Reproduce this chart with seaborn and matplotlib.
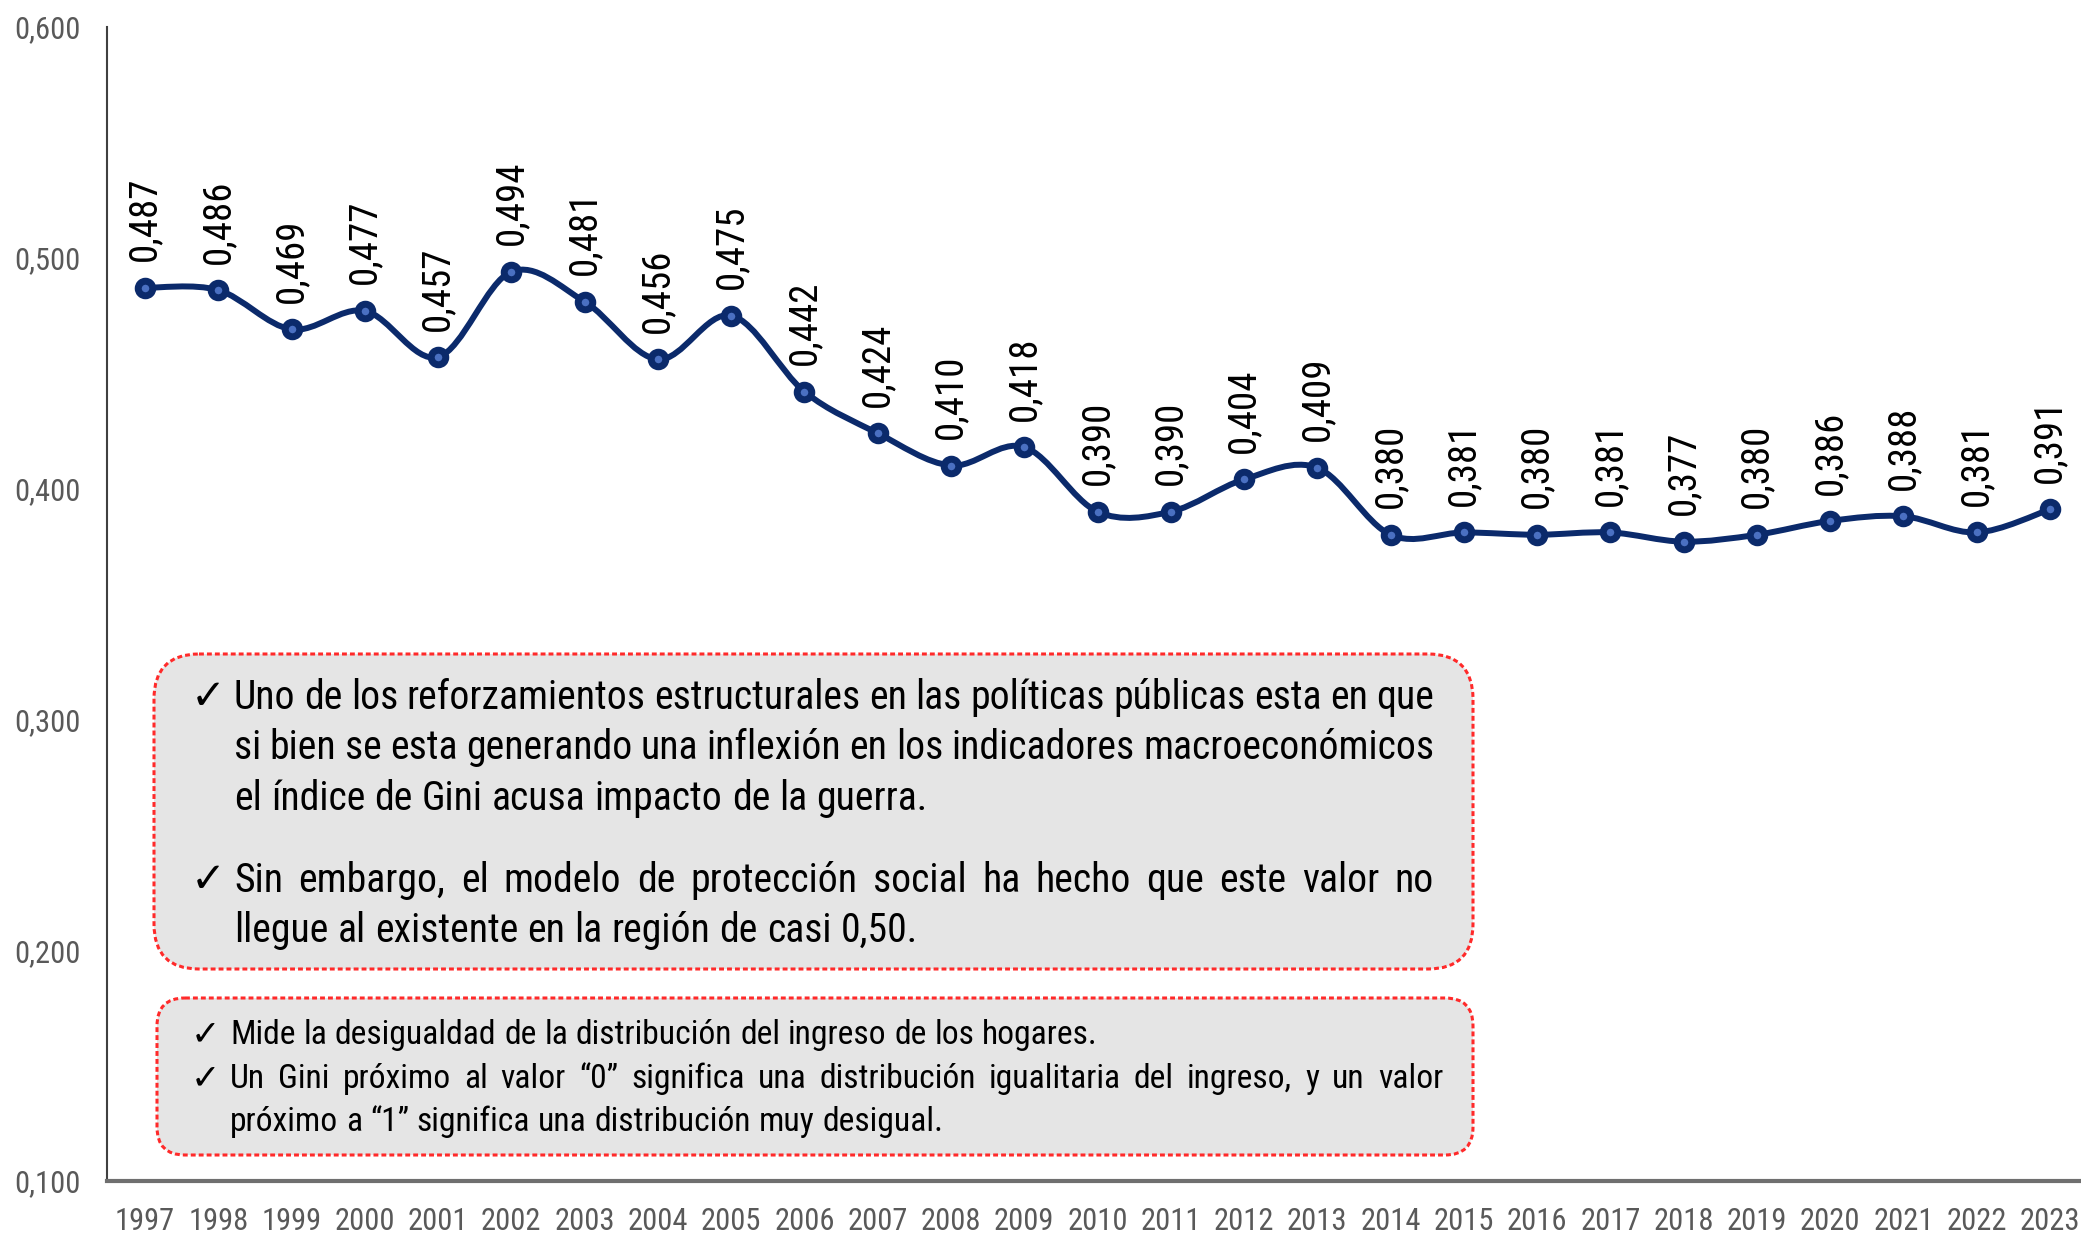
import numpy as np
import pandas as pd
import seaborn as sns
import matplotlib
matplotlib.use("Agg")
import matplotlib.pyplot as plt
import matplotlib.transforms as mtransforms
from matplotlib import font_manager
from matplotlib.patches import FancyBboxPatch, PathPatch
from matplotlib.path import Path
from matplotlib.ticker import FuncFormatter

# ---- data -------------------------------------------------------------
years = list(range(1997, 2024))
gini = [0.487, 0.486, 0.469, 0.477, 0.457, 0.494, 0.481, 0.456, 0.475,
        0.442, 0.424, 0.410, 0.418, 0.390, 0.390, 0.404, 0.409, 0.380,
        0.381, 0.380, 0.381, 0.377, 0.380, 0.386, 0.388, 0.381, 0.391]
y_ticks = [0.1, 0.2, 0.3, 0.4, 0.5, 0.6]

note_main = [
    ["Uno de los reforzamientos estructurales en las políticas públicas esta en que",
     "si bien se esta generando una inflexión en los indicadores macroeconómicos",
     "el índice de Gini acusa impacto de la guerra."],
    ["Sin embargo, el modelo de protección social ha hecho que este valor no",
     "llegue al existente en la región de casi 0,50."],
]
note_def = [
    ["Mide la desigualdad de la distribución del ingreso de los hogares."],
    ["Un Gini próximo al valor “0” significa una distribución igualitaria del ingreso, y un valor",
     "próximo a “1” significa una distribución muy desigual."],
]

# ---- style ------------------------------------------------------------
W, H, DPI = 2081, 1234, 100
NAVY = "#0b2a6b"
MARKER_FACE = "#4a70c2"
TICK_GREY = "#595959"
BOX_FILL = "#e5e5e5"
BOX_EDGE = "#ff2a2a"

sns.set_style("white")
installed = {f.name for f in font_manager.fontManager.ttflist}
NARROW = next((f for f in ["Liberation Sans Narrow", "Roboto Condensed",
                           "PT Sans Narrow", "Archivo Narrow", "Liberation Sans"]
               if f in installed), "DejaVu Sans")
plt.rcParams["font.family"] = [NARROW, "DejaVu Sans"]

fig = plt.figure(figsize=(W / DPI, H / DPI), dpi=DPI)
ax = fig.add_axes([107 / W, (H - 1181) / H, 1 - 107 / W, (1181 - 27) / H])

df = pd.DataFrame({"year": years, "gini": gini})

# smoothed line: cubic Bezier segments through every yearly value
x = df["year"].to_numpy(float)
y = df["gini"].to_numpy(float)
n = len(x)
verts = [(x[0], y[0])]
codes = [Path.MOVETO]
for i in range(n - 1):
    xp, yp = (x[i - 1], y[i - 1]) if i > 0 else (x[i], y[i])
    xn, yn = (x[i + 2], y[i + 2]) if i + 2 < n else (x[i + 1], y[i + 1])
    c1 = (x[i] + (x[i + 1] - xp) / 6, y[i] + (y[i + 1] - yp) / 6)
    c2 = (x[i + 1] - (xn - x[i]) / 6, y[i + 1] - (yn - y[i]) / 6)
    verts += [c1, c2, (x[i + 1], y[i + 1])]
    codes += [Path.CURVE4] * 3
ax.add_patch(PathPatch(Path(verts, codes), fill=False, edgecolor=NAVY, lw=4.3,
                       capstyle="round", joinstyle="round", zorder=2))

sns.scatterplot(data=df, x="year", y="gini", ax=ax, s=10.5 ** 2,
                color=MARKER_FACE, edgecolor=NAVY, linewidth=5,
                zorder=3, legend=False)

def comma(v, _=None):
    return f"{v:.3f}".replace(".", ",")

for yr, v in zip(years, gini):
    ax.annotate(comma(v), (yr, v), xytext=(0, 19), textcoords="offset points",
                rotation=90, ha="center", va="bottom", fontsize=28,
                color="black", zorder=4)

ax.set_xlim(1996.481, 2023.423)
ax.set_ylim(0.1, 0.6)
ax.set_xticks(years)
ax.set_xticklabels([str(v) for v in years])
ax.set_yticks(y_ticks)
ax.yaxis.set_major_formatter(FuncFormatter(comma))
ax.tick_params(axis="both", length=0, pad=19, labelsize=22, labelcolor=TICK_GREY)
ax.set_xlabel("")
ax.set_ylabel("")
for s in ("top", "right"):
    ax.spines[s].set_visible(False)
ax.spines["left"].set_color("#404040")
ax.spines["left"].set_linewidth(1.5)
ax.spines["bottom"].set_color("#6f6f6f")
ax.spines["bottom"].set_linewidth(3)

# ---- note boxes (coordinates in pixels, y downward) ------------------
T = mtransforms.Affine2D().scale(1 / W, -1 / H).translate(0, 1) + fig.transFigure

def box(x0, y0, x1, y1, r):
    p = FancyBboxPatch((x0, y0), x1 - x0, y1 - y0,
                       boxstyle=f"round,pad=0,rounding_size={r}",
                       transform=T, facecolor=BOX_FILL, edgecolor=BOX_EDGE,
                       lw=2.2, linestyle=(0, (1.6, 1.0)), zorder=5)
    fig.add_artist(p)

box(154, 654, 1473, 969, 45)
box(157, 998, 1473, 1155, 28)

renderer = fig.canvas.get_renderer()

def text_width(s, fs):
    t = fig.text(0, 0, s, fontsize=fs)
    w = t.get_window_extent(renderer).width
    t.remove()
    return w

def draw_paragraphs(paras, baselines, check_x, x0, x1, fs):
    space = text_width("n n", fs) - text_width("nn", fs)
    k = 0
    for para in paras:
        for j, line in enumerate(para):
            yb = baselines[k]
            k += 1
            if j == 0:
                fig.text(check_x, yb, "✓", transform=T, fontsize=fs * 1.05,
                         va="baseline", ha="left", color="black", zorder=6,
                         family=["DejaVu Sans"], fontweight="bold")
            words = line.split(" ")
            arts = [fig.text(0, yb, w, transform=T, fontsize=fs, va="baseline",
                             ha="left", color="black", zorder=6) for w in words]
            widths = [a.get_window_extent(renderer).width for a in arts]
            justify = j < len(para) - 1
            gap = (x1 - x0 - sum(widths)) / (len(words) - 1) if justify else space
            xx = x0
            for a, w in zip(arts, widths):
                a.set_position((xx, yb))
                xx += w + gap

draw_paragraphs(note_main, [709, 759, 810, 892, 942], 191, 234, 1434, 28.6)
draw_paragraphs(note_def, [1044, 1088, 1131], 191, 230, 1443, 24.2)

fig.savefig("out.png", dpi=DPI)
